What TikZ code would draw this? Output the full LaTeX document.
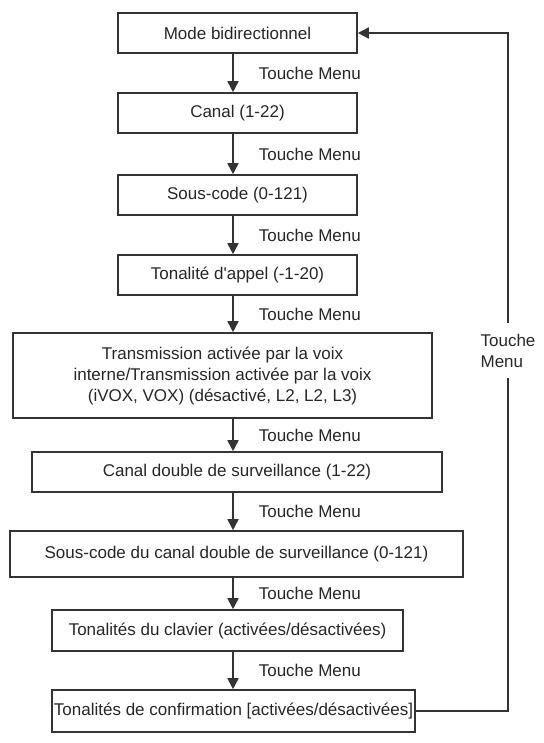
\documentclass[tikz,border=0pt]{standalone}
\usepackage{fontspec}
\setmainfont{Liberation Sans}
\usetikzlibrary{arrows.meta}
\tikzstyle{menubox}=[rectangle,draw=black!80,line width=1.6pt,inner sep=0pt,text=black!85,align=center]
\tikzstyle{edge} = [draw=black!80,line width=1.6pt,-{Triangle[width=11pt,length=11pt]}]
\tikzstyle{weight} = [anchor=west,inner sep=0pt,xshift=25pt,text=black!85]

\begin{document}
\begin{tikzpicture}[x=1pt, y=-1pt, font=\fontsize{17}{21}\selectfont]

   \useasboundingbox (0,0) rectangle (543,743);
   \coordinate (spine) at (233,0);

    % menu steps: position / name / width / height / text
    \foreach \pos/ \name / \w / \h / \label in {
        {(237.5,33)/b1/239/40/{Mode bidirectionnel}},
        {(237.5,113)/b2/239/40/{Canal (1-22)}},
        {(237.5,195)/b3/239/40/{Sous-code (0-121)}},
        {(237.5,275)/b4/239/40/{Tonalité d\textquotesingle appel (-1-20)}},
        {(237,472)/b6/410/40/{Canal double de surveillance (1-22)}},
        {(236.5,554)/b7/453/46/{Sous-code du canal double de surveillance (0-121)}},
        {(227.5,630.5)/b8/351/41/{Tonalités du clavier (activées/désactivées)}},
        {(233.5,711)/b9/363/42/{Tonalités de confirmation [activées/désactivées]}}}
        \node[menubox,minimum width=\w pt,minimum height=\h pt] (\name) at \pos {\label};

    \node[menubox,minimum width=419pt,minimum height=85pt] (b5) at (222.5,375.5)
        {Transmission activée par la voix\\interne/Transmission activée par la voix\\(iVOX, VOX) (désactivé, L2, L2, L3)};

    % Connect steps with edges and draw labels
    \foreach \source/ \dest in {b1/b2,b2/b3,b3/b4,b4/b5,b5/b6,b6/b7,b7/b8,b8/b9}
        \draw[edge] (\source.south -| spine) -- node[weight] {Touche Menu} (\dest.north -| spine);

    % way back to the top
    \node[inner sep=0pt,minimum height=55pt,align=left,text=black!85] (back) at (508,350.5) {Touche\\Menu};
    \draw[draw=black!80,line width=1.6pt] (b9.east) -| (back.south);
    \draw[edge] (back.north) |- (b1.east);
       \end{tikzpicture}
\end{document}
